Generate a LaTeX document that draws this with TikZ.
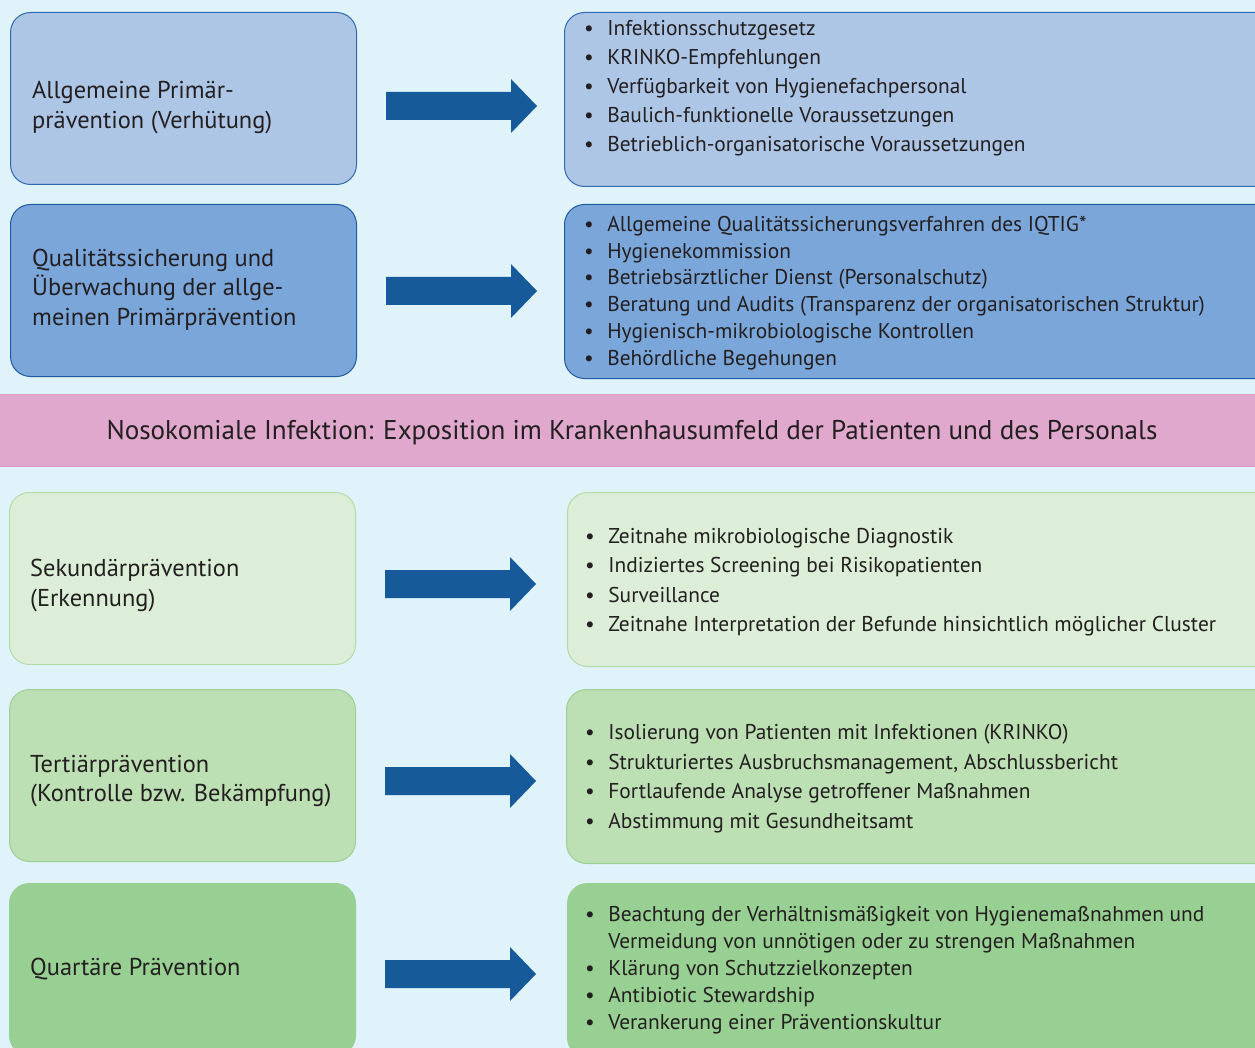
\documentclass[tikz,border=0pt]{standalone}
\usepackage{fontspec}
\setmainfont{PT Sans}
\usetikzlibrary{calc}
\definecolor{bgblue}{HTML}{E0F3FB}
\definecolor{txt}{HTML}{231F20}
\definecolor{fillA}{HTML}{ADC6E6}
\definecolor{lineA}{HTML}{2F6AAE}
\definecolor{fillB}{HTML}{7BA6DA}
\definecolor{lineB}{HTML}{1F5A9E}
\definecolor{fillC}{HTML}{DCEED7}
\definecolor{lineC}{HTML}{B2DBA8}
\definecolor{fillD}{HTML}{BCDFB3}
\definecolor{lineD}{HTML}{9ECF94}
\definecolor{fillE}{HTML}{98CF92}
\definecolor{lineE}{HTML}{98CF92}
\definecolor{pinkband}{HTML}{DFA8CC}
\definecolor{pinkedge}{HTML}{D89BC3}
\definecolor{arrowblue}{HTML}{175A9A}
\newcommand{\bl}{\textbullet}
\begin{document}
\begin{tikzpicture}[x=1pt,y=-1pt,
  box/.style={rounded corners=20pt, line width=1pt, inner sep=0pt, anchor=north west},
  leftbox/.style={box, minimum width=346pt, minimum height=172pt},
  rightbox/.style={box, minimum width=720pt, minimum height=174pt},
  label/.style={anchor=west, align=left, inner sep=0pt, text=txt,
    font=\fontsize{24.4}{29.5}\selectfont},
  items/.style={anchor=west, inner sep=0pt, text=txt,
    font=\fontsize{21.4}{#1}\selectfont},
  items/.default=29,
  blockarrow/.style={fill=arrowblue}
]
\clip (0,0) rectangle (1255,1048);
\fill[bgblue] (0,0) rectangle (1255,1048);

% row 1: general primary prevention
\node[leftbox, fill=fillA, draw=lineA] (L1) at (10,12) {};
\node[rightbox, fill=fillA, draw=lineA] (R1) at (564,12) {};
\node[label] (T1) at (32,107.5) {Allgemeine Primär-\\prävention (Verhütung)};
\node[items] (I1) at (584,88) {\begin{tabular}{@{}l@{\hspace{13.5pt}}l@{}}
\bl & Infektionsschutzgesetz\\
\bl & KRINKO-Empfehlungen\\
\bl & Verfügbarkeit von Hygienefachpersonal\\
\bl & Baulich-funktionelle Voraussetzungen\\
\bl & Betrieblich-organisatorische Voraussetzungen
\end{tabular}};

% row 2: quality assurance
\node[leftbox, fill=fillB, draw=lineB] (L2) at (10,204) {};
\node[rightbox, fill=fillB, draw=lineB] (R2) at (564,204) {};
\node[label] (T2) at (32,289.5) {Qualitätssicherung und\\Überwachung der allge-\\meinen Primärprävention};
\node[items=26.8] (I2) at (584,293) {\begin{tabular}{@{}l@{\hspace{13.5pt}}l@{}}
\bl & Allgemeine Qualitätssicherungsverfahren des IQTIG*\\
\bl & Hygienekommission\\
\bl & Betriebsärztlicher Dienst (Personalschutz)\\
\bl & Beratung und Audits (Transparenz der organisatorischen Struktur)\\
\bl & Hygienisch-mikrobiologische Kontrollen\\
\bl & Behördliche Begehungen
\end{tabular}};

% central band
\fill[pinkband] (0,394) rectangle (1255,467);
\draw[pinkedge, line width=1.2pt] (0,394.6) -- (1255,394.6);
\draw[pinkedge, line width=1.2pt] (0,466.4) -- (1255,466.4);
\node[text=txt, font=\fontsize{27.1}{32}\selectfont, inner sep=0pt] (band) at (632,432.5)
  {Nosokomiale Infektion: Exposition im Krankenhausumfeld der Patienten und des Personals};

% row 3: secondary prevention
\node[leftbox, fill=fillC, draw=lineC] (L3) at (9,492) {};
\node[rightbox, fill=fillC, draw=lineC] (R3) at (567,492) {};
\node[label] (T3) at (30,585.5) {Sekundärprävention\\(Erkennung)};
\node[items=29.3] (I3) at (585,581.5) {\begin{tabular}{@{}l@{\hspace{13.5pt}}l@{}}
\bl & Zeitnahe mikrobiologische Diagnostik\\
\bl & Indiziertes Screening bei Risikopatienten\\
\bl & Surveillance\\
\bl & Zeitnahe Interpretation der Befunde hinsichtlich möglicher Cluster
\end{tabular}};

% row 4: tertiary prevention
\node[leftbox, fill=fillD, draw=lineD] (L4) at (9,689) {};
\node[rightbox, fill=fillD, draw=lineD] (R4) at (566,689) {};
\node[label] (T4) at (30,781) {Tertiärprävention\\(Kontrolle bzw. Bekämpfung)};
\node[items=29.6] (I4) at (585,778) {\begin{tabular}{@{}l@{\hspace{13.5pt}}l@{}}
\bl & Isolierung von Patienten mit Infektionen (KRINKO)\\
\bl & Strukturiertes Ausbruchsmanagement, Abschlussbericht\\
\bl & Fortlaufende Analyse getroffener Maßnahmen\\
\bl & Abstimmung mit Gesundheitsamt
\end{tabular}};

% row 5: quaternary prevention
\node[leftbox, fill=fillE, draw=lineE] (L5) at (9,883) {};
\node[rightbox, fill=fillE, draw=lineE] (R5) at (567,883) {};
\node[label] (T5) at (30,969) {Quartäre Prävention};
\node[items=27] (I5) at (585,970) {\begin{tabular}{@{}l@{\hspace{13.5pt}}l@{}}
\bl & Beachtung der Verhältnismäßigkeit von Hygienemaßnahmen und\\
    & Vermeidung von unnötigen oder zu strengen Maßnahmen\\
\bl & Klärung von Schutzzielkonzepten\\
\bl & Antibiotic Stewardship\\
\bl & Verankerung einer Präventionskultur
\end{tabular}};

% block arrows from each category to its measures
\foreach \n/\y in {1/106, 2/291, 3/584, 4/781, 5/974} {
  \coordinate (A\n) at (L\n.east |- 0,\y);
  \fill[blockarrow] ($(A\n)+(29,-14)$) -- ++(125,0) -- ++(0,-13) -- ++(26,27)
    -- ++(-26,27) -- ++(0,-13) -- ++(-125,0) -- cycle;
}
\end{tikzpicture}
\end{document}
